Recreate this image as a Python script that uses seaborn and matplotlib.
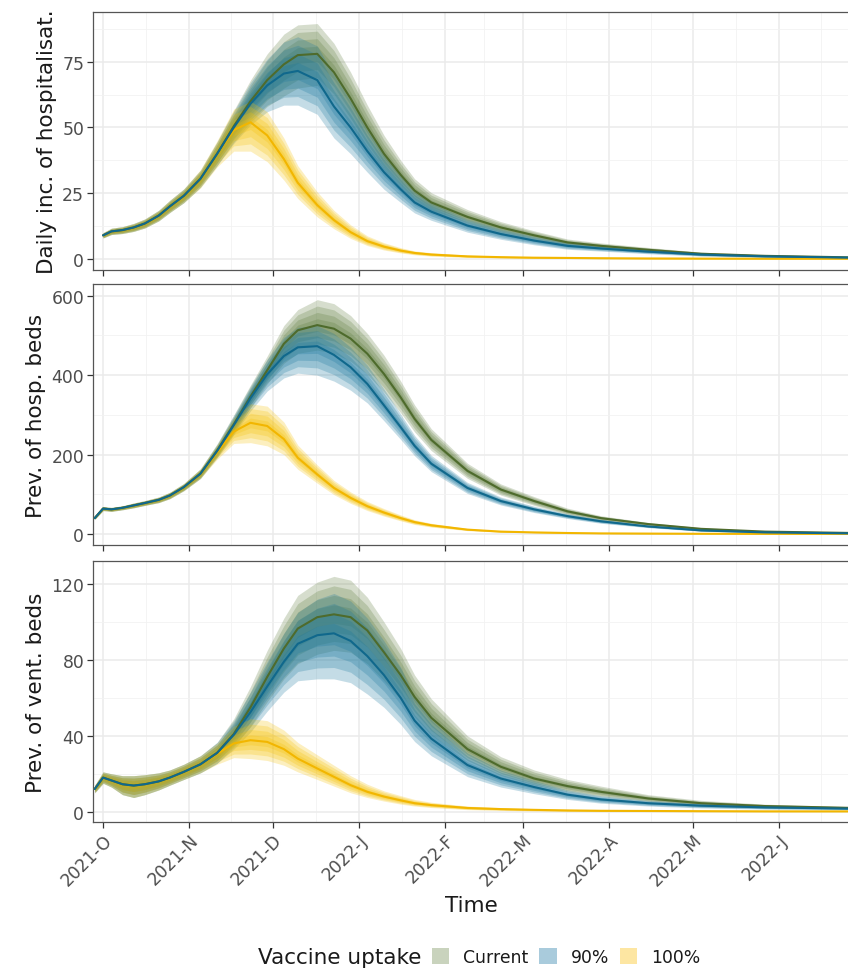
import numpy as np
import pandas as pd
import matplotlib
matplotlib.use("Agg")
import matplotlib.pyplot as plt
import matplotlib.dates as mdates
from matplotlib.patches import Patch
from matplotlib.ticker import FixedLocator
import seaborn as sns

nan = np.nan

# ---------------- data ----------------
start_date = "2021-10-01"
day_offsets = [-3, 0, 3, 7, 11, 15, 20, 24, 29, 35, 41, 47, 53, 59, 65, 70, 77, 83,
               89, 95, 101, 107, 112, 118, 131, 143, 155, 167, 179, 196, 215, 238, 270]

scenarios = ["Current", "90%", "100%"]
panel_titles = ["Daily inc. of hospitalisat.", "Prev. of hosp. beds", "Prev. of vent. beds"]
tick_labels_x = ["2021-O", "2021-N", "2021-D", "2022-J", "2022-F", "2022-M", "2022-A", "2022-M", "2022-J"]
tick_months = ["2021-10-01", "2021-11-01", "2021-12-01", "2022-01-01", "2022-02-01",
               "2022-03-01", "2022-04-01", "2022-05-01", "2022-06-01"]
yticks_inc = [0, 25, 50, 75]
yticks_beds = [0, 200, 400, 600]
yticks_vent = [0, 40, 80, 120]

# Panel 1: daily incidence of hospitalisations
inc_cur_med = [nan, 9, 10.5, 11, 12, 13.5, 16.5, 20, 24, 30.5, 40, 50.5, 60, 68, 74, 77.5, 78, 71, 61, 50, 40, 32, 26, 21.5, 16, 12, 9, 6.3, 5, 3.5, 2, 1.2, 0.6]
inc_cur_lo = [nan, 8, 9.3, 9.7, 10.5, 11.8, 14.5, 17.7, 21.4, 27.3, 35.5, 44.5, 52, 58, 62, 65, 66, 60, 51, 41.5, 33, 26.5, 21.5, 17.8, 13.2, 9.8, 7.3, 5, 3.9, 2.6, 1.4, 0.8, 0.3]
inc_cur_hi = [nan, 10, 11.7, 12.3, 13.5, 15.2, 18.5, 22.3, 26.6, 33.7, 44.5, 56.5, 68, 78, 85.5, 89, 89.5, 82, 71, 58.5, 47, 37.5, 30.5, 25.2, 18.8, 14.2, 10.7, 7.6, 6.1, 4.4, 2.6, 1.6, 0.9]
inc_90_med = [nan, 9, 10.5, 11, 12, 13.5, 16.5, 20, 24, 30.5, 40, 50, 59, 66, 70.5, 71.5, 68, 58, 50, 41, 33, 26.5, 21.5, 18, 12.7, 9.5, 7, 5, 4, 2.8, 1.7, 1, 0.5]
inc_90_lo = [nan, 8, 9.3, 9.7, 10.5, 11.8, 14.5, 17.7, 21.4, 27.3, 35.5, 44, 51, 56, 58.5, 58.5, 55, 46, 40, 33, 26.5, 21.5, 17.5, 14.7, 10.2, 7.5, 5.4, 3.7, 3, 2, 1.1, 0.6, 0.2]
inc_90_hi = [nan, 10, 11.7, 12.3, 13.5, 15.2, 18.5, 22.3, 26.6, 33.7, 44.5, 56, 67, 76, 82.5, 84.5, 81, 70, 60, 49, 39.5, 31.5, 25.5, 21.3, 15.2, 11.5, 8.6, 6.3, 5, 3.6, 2.3, 1.4, 0.8]
inc_100_med = [nan, 9, 10.5, 11, 12, 13.5, 16.5, 20, 24, 30.5, 40, 49, 52, 47, 38, 29, 20.5, 14.8, 10.2, 6.8, 4.7, 3.2, 2.3, 1.7, 1, 0.7, 0.5, 0.4, 0.3, 0.2, 0.15, 0.1, 0.1]
inc_100_lo = [nan, 8, 9.3, 9.7, 10.5, 11.8, 14.5, 17.7, 21.4, 27, 35, 41, 41, 37, 30, 23, 16, 11.5, 7.8, 5.1, 3.4, 2.3, 1.6, 1.1, 0.6, 0.4, 0.25, 0.2, 0.1, 0.05, 0, 0, 0]
inc_100_hi = [nan, 10, 11.7, 12.3, 13.5, 15.2, 18.5, 22.3, 26.6, 34, 45, 57, 60, 56, 46, 35.5, 25.5, 18.5, 13, 8.8, 6.2, 4.3, 3.1, 2.4, 1.5, 1.1, 0.8, 0.6, 0.5, 0.4, 0.3, 0.2, 0.2]

# Panel 2: prevalence of hospital beds
beds_cur_med = [40, 64, 62, 66, 72, 78, 86, 97, 118, 152, 210, 276, 346, 412, 479, 513, 526, 517, 492, 454, 403, 344, 290, 237, 159, 112, 83, 57, 40, 25, 13, 6, 2.5]
beds_cur_lo = [37, 59, 57, 61, 66, 72, 79, 89, 109, 140, 193, 253, 318, 378, 430, 455, 463, 455, 435, 402, 357, 305, 257, 210, 140, 98, 72, 49, 34, 21, 10, 4.5, 1.5]
beds_cur_hi = [43, 69, 67, 71, 78, 84, 93, 105, 127, 164, 227, 300, 375, 448, 525, 565, 590, 580, 550, 505, 450, 385, 325, 265, 178, 126, 94, 65, 46, 29, 16, 8, 3.5]
beds_90_med = [40, 64, 62, 66, 72, 78, 86, 97, 118, 152, 209, 274, 342, 402, 448, 470, 473, 451, 420, 378, 324, 269, 222, 177, 116, 83, 62, 45, 32, 19, 9, 4, 1.5]
beds_90_lo = [37, 59, 57, 61, 66, 72, 79, 89, 109, 140, 192, 250, 310, 360, 393, 405, 400, 385, 362, 330, 285, 238, 197, 157, 102, 73, 54, 39, 27, 16, 7, 3, 1]
beds_90_hi = [43, 69, 67, 71, 78, 84, 93, 105, 127, 164, 226, 298, 372, 440, 495, 520, 525, 505, 470, 425, 365, 302, 248, 198, 130, 93, 70, 51, 37, 22, 11, 5, 2]
beds_100_med = [40, 64, 62, 66, 72, 78, 86, 97, 118, 152, 206, 258, 280, 272, 239, 192, 150, 116, 91, 70, 54, 40, 30, 22, 11, 6, 4, 2.5, 1.5, 1, 0.5, 0.3, 0.2]
beds_100_lo = [37, 59, 57, 61, 66, 72, 79, 89, 109, 140, 188, 228, 230, 222, 200, 163, 128, 99, 77, 59, 45, 33, 24, 17.5, 8.5, 4.5, 3, 1.8, 1, 0.6, 0.3, 0.1, 0.1]
beds_100_hi = [43, 69, 67, 71, 78, 84, 93, 105, 127, 164, 224, 292, 328, 322, 282, 224, 174, 135, 106, 82, 64, 48, 36, 27, 14, 8, 5.5, 3.5, 2.2, 1.5, 0.8, 0.5, 0.3]

# Panel 3: prevalence of ventilated beds
vent_cur_med = [12, 18, 16.5, 14.5, 13.8, 14.5, 16, 18, 21, 25, 31, 41, 55, 71, 86, 96.5, 102.5, 104, 102.5, 95.5, 84, 72, 60.5, 49.5, 33, 23.7, 17.5, 13.5, 10.5, 7, 4.5, 3, 2]
vent_cur_lo = [10, 15, 13, 9, 7.5, 9, 11.5, 14, 17, 20.5, 25.5, 34, 45, 58, 70, 78, 83, 85, 84, 78, 69, 59, 50, 40.5, 27, 19, 14, 10.5, 8, 5.3, 3.3, 2.2, 1.4]
vent_cur_hi = [14, 21, 20, 19, 19, 19.5, 20.5, 22, 25, 29.5, 36.5, 49, 66, 85, 102, 114, 121, 124, 122, 113, 100, 86, 72, 59.5, 40, 29, 22, 17, 13.5, 9, 6, 4, 2.6]
vent_90_med = [12, 18, 16.5, 14.5, 13.8, 14.5, 16, 18, 21, 25, 31, 40.5, 52.5, 66, 79, 88.5, 93, 94, 90, 82, 72, 60, 48, 38.5, 24.6, 17.5, 13, 9, 6.5, 4.5, 3.2, 2.3, 1.6]
vent_90_lo = [10, 15, 13, 9, 7.5, 9, 11.5, 14, 17, 20.5, 25.5, 33, 42, 53, 63, 69, 70, 70, 68, 62, 55, 46, 37, 29.5, 18.5, 13, 9.5, 6.5, 4.5, 3, 2, 1.4, 1]
vent_90_hi = [14, 21, 20, 19, 19, 19.5, 20.5, 22, 25, 29.5, 36.5, 48, 63, 79, 94, 105, 112, 115, 111, 102, 90, 76, 60, 48.5, 31, 22, 16.5, 11.5, 8.5, 6, 4.4, 3.2, 2.2]
vent_100_med = [12, 18, 16.5, 14.5, 13.8, 14.5, 16, 18, 21, 25, 30.5, 36, 37.7, 36.8, 33, 28, 22.8, 18.4, 14, 10.5, 8, 6, 4.5, 3.5, 2, 1.4, 1, 0.7, 0.5, 0.4, 0.3, 0.2, 0.2]
vent_100_lo = [10, 15, 13, 9, 7.5, 9, 11.5, 14, 17, 20.5, 25, 28.5, 28, 27, 24.5, 21, 17, 13.5, 10, 7.5, 5.6, 4, 3, 2.2, 1.1, 0.7, 0.4, 0.2, 0.1, 0.1, 0, 0, 0]
vent_100_hi = [14, 21, 20, 19, 19, 19.5, 20.5, 22, 25, 29.5, 36, 45, 49, 48, 43, 36.5, 30, 24.5, 19, 14.5, 11, 8.5, 6.5, 5, 3, 2.2, 1.6, 1.2, 0.9, 0.7, 0.5, 0.4, 0.3]

# ---------------- style ----------------
fill_colors = {"Current": "#5c7b3b", "90%": "#17769e", "100%": "#f6c000"}
line_colors = {"Current": "#4e6b2c", "90%": "#10688c", "100%": "#f2b600"}
legend_colors = {"Current": "#c9d3bd", "90%": "#a9cbdc", "100%": "#fde6a2"}

sns.set_theme(style="white")
plt.rcParams["font.family"] = ["DejaVu Sans"]

TICK_FS = 12.4
TITLE_FS = 15.5

dates = pd.to_datetime(start_date) + pd.to_timedelta(day_offsets, unit="D")

panels = [
    ({"Current": (inc_cur_med, inc_cur_lo, inc_cur_hi),
      "90%": (inc_90_med, inc_90_lo, inc_90_hi),
      "100%": (inc_100_med, inc_100_lo, inc_100_hi)}, yticks_inc, (-4.18, 93.9)),
    ({"Current": (beds_cur_med, beds_cur_lo, beds_cur_hi),
      "90%": (beds_90_med, beds_90_lo, beds_90_hi),
      "100%": (beds_100_med, beds_100_lo, beds_100_hi)}, yticks_beds, (-27.7, 629.5)),
    ({"Current": (vent_cur_med, vent_cur_lo, vent_cur_hi),
      "90%": (vent_90_med, vent_90_lo, vent_90_hi),
      "100%": (vent_100_med, vent_100_lo, vent_100_hi)}, yticks_vent, (-5.4, 132.1)),
]

W, H = 848, 970
fig = plt.figure(figsize=(W / 100, H / 100), dpi=100)
left = 92.5 / W
right = 851 / W
boxes = [(13, 271), (285, 546), (562, 823)]

x0 = pd.Timestamp(start_date) - pd.Timedelta(days=3.8)
x1 = pd.Timestamp(start_date) + pd.Timedelta(days=268.9)
major_dates = pd.to_datetime(tick_months)
minor_dates = [a + (b - a) / 2 for a, b in zip(major_dates[:-1], major_dates[1:])]
minor_dates.append(major_dates[-1] + pd.Timedelta(days=15))

for i, ((series, yt, ylim), (top, bot)) in enumerate(zip(panels, boxes)):
    ax = fig.add_axes([left, 1 - bot / H, right - left, (bot - top) / H])
    for sc in scenarios:
        med, lo, hi = (np.array(v, dtype=float) for v in series[sc])
        for f in [1.0, 0.75, 0.5, 0.25]:
            ax.fill_between(dates, med - f * (med - lo), med + f * (hi - med),
                            color=fill_colors[sc], alpha=0.25, linewidth=0, zorder=2)
    rows = []
    for sc in scenarios:
        rows.append(pd.DataFrame({"date": dates, "value": series[sc][0], "scenario": sc}))
    df = pd.concat(rows, ignore_index=True).dropna()
    sns.lineplot(data=df, x="date", y="value", hue="scenario",
                 hue_order=["100%", "Current", "90%"], palette=line_colors,
                 linewidth=1.5, legend=False, ax=ax, zorder=3, estimator=None)

    ax.xaxis.set_major_locator(FixedLocator(mdates.date2num(major_dates)))
    ax.xaxis.set_minor_locator(FixedLocator(mdates.date2num(minor_dates)))
    ax.yaxis.set_major_locator(FixedLocator(yt))
    ax.yaxis.set_minor_locator(FixedLocator([(a + b) / 2 for a, b in zip(yt[:-1], yt[1:])]
                                            + [yt[-1] + (yt[1] - yt[0]) / 2]))
    ax.set_xlim(x0, x1)
    ax.set_ylim(*ylim)
    ax.grid(True, which="major", color="#ebebeb", linewidth=1.1, zorder=0)
    ax.grid(True, which="minor", color="#f2f2f2", linewidth=0.6, zorder=0)
    ax.set_axisbelow(True)
    for s in ax.spines.values():
        s.set_visible(True)
        s.set_color("#555555")
        s.set_linewidth(0.9)
    ax.tick_params(axis="both", which="major", length=4, width=0.9, color="#333333",
                   labelcolor="#4d4d4d", labelsize=TICK_FS, direction="out",
                   left=True, bottom=True, pad=2)
    ax.tick_params(axis="both", which="minor", length=0)
    ax.set_ylabel(panel_titles[i], fontsize=TITLE_FS, color="#1a1a1a", labelpad=4)
    ax.set_xlabel("")
    if i < 2:
        ax.set_xticklabels([])
    else:
        ax.set_xticklabels(tick_labels_x, rotation=45, ha="right", rotation_mode="anchor")
        ax.set_xlabel("Time", fontsize=TITLE_FS, color="#1a1a1a", labelpad=4)

# legend
handles = [Patch(facecolor=legend_colors[s], edgecolor="none") for s in scenarios]
fig.text(421 / W, 1 - 958 / H, "Vaccine uptake", ha="right", va="center",
         fontsize=TITLE_FS, color="#1a1a1a")
fig.legend(handles, scenarios, loc="center left", bbox_to_anchor=(432 / W, 1 - 958 / H),
           ncol=3, frameon=False, fontsize=TICK_FS, handlelength=1.0, handleheight=1.0,
           handletextpad=0.8, columnspacing=0.65, borderpad=0, borderaxespad=0,
           labelcolor="#1a1a1a")

fig.savefig("out.png", dpi=100)
